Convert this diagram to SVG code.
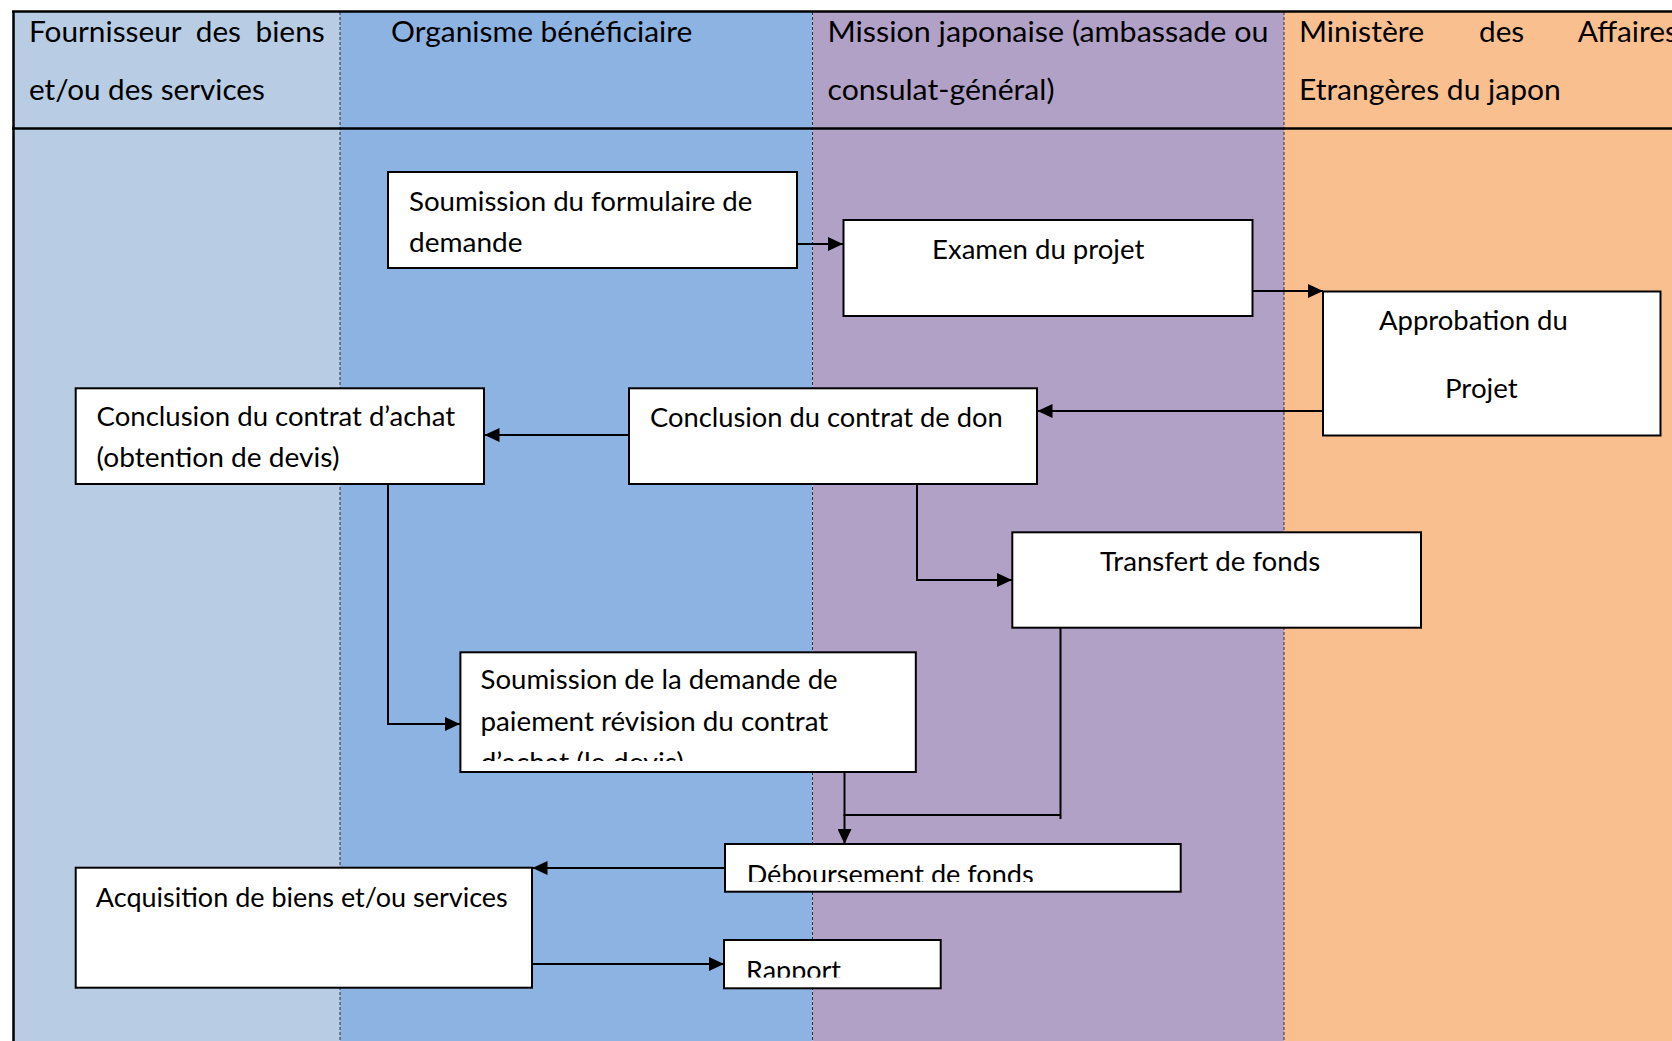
<svg xmlns="http://www.w3.org/2000/svg" width="1672" height="1041" viewBox="0 0 1672 1041">
<style>
.t{font-family:Lato,"Open Sans","Liberation Sans",sans-serif;fill:#000}
.h{font-size:28.8px}
.b{font-size:26.5px}
.box{fill:#fff;stroke:#000;stroke-width:2}
.sep{stroke:#333;stroke-width:1;stroke-dasharray:3 2;fill:none}
.bd{stroke:#000;stroke-width:2.5;fill:none}
.c{fill:none;stroke:#000;stroke-width:2}
</style>
<defs>
<marker id="ah" markerUnits="userSpaceOnUse" markerWidth="15" markerHeight="14" refX="15" refY="7" orient="auto">
<path d="M0,0 L15,7 L0,14 z" fill="#000"/>
</marker>
<clipPath id="clip7"><rect x="461" y="653" width="454" height="108"/></clipPath>
<clipPath id="clip8"><rect x="726" y="845" width="454" height="37"/></clipPath>
<clipPath id="clip9"><rect x="725" y="941" width="215" height="36.5"/></clipPath>
</defs>
<rect width="1672" height="1041" fill="#fff"/>
<g id="lanes">
<rect x="13" y="11" width="327" height="1030" fill="#B8CCE4"/>
<rect x="340" y="11" width="472.5" height="1030" fill="#8DB3E2"/>
<rect x="812.5" y="11" width="471.5" height="1030" fill="#B2A1C7"/>
<rect x="1284" y="11" width="388" height="1030" fill="#FABF8F"/>
<line class="sep" x1="340" y1="12" x2="340" y2="1041"/>
<line class="sep" x1="812.5" y1="12" x2="812.5" y2="1041"/>
<line class="sep" x1="1284" y1="12" x2="1284" y2="1041"/>
<line class="bd" x1="12" y1="11.5" x2="1672" y2="11.5"/>
<line class="bd" x1="12" y1="128.5" x2="1672" y2="128.5"/>
<line class="bd" x1="13.5" y1="11" x2="13.5" y2="1041"/>
</g>
<g id="headers">
<text class="t h" y="42"><tspan x="29" textLength="152.6" lengthAdjust="spacingAndGlyphs">Fournisseur</tspan><tspan x="195.8" textLength="45.2" lengthAdjust="spacingAndGlyphs">des</tspan><tspan x="255.4" textLength="69.4" lengthAdjust="spacingAndGlyphs">biens</tspan></text>
<text class="t h" x="29" y="100" textLength="235.8" lengthAdjust="spacingAndGlyphs">et/ou des services</text>
<text class="t h" x="391" y="42" textLength="301.3" lengthAdjust="spacingAndGlyphs">Organisme bénéficiaire</text>
<text class="t h" x="827.5" y="42" textLength="441" lengthAdjust="spacingAndGlyphs">Mission japonaise (ambassade ou</text>
<text class="t h" x="827.5" y="100" textLength="227" lengthAdjust="spacingAndGlyphs">consulat-général)</text>
<text class="t h" y="42"><tspan x="1299" textLength="125.1" lengthAdjust="spacingAndGlyphs">Ministère</tspan><tspan x="1479" textLength="45.2" lengthAdjust="spacingAndGlyphs">des</tspan><tspan x="1577.7" textLength="100.3" lengthAdjust="spacingAndGlyphs">Affaires</tspan></text>
<text class="t h" x="1299" y="100" textLength="261.8" lengthAdjust="spacingAndGlyphs">Etrangères du japon</text>
</g>
<g id="n1">
<rect class="box" x="388" y="172" width="409" height="96"/>
<text class="t b" x="409" y="211" textLength="343.4" lengthAdjust="spacingAndGlyphs">Soumission du formulaire de</text>
<text class="t b" x="409" y="252" textLength="113.5" lengthAdjust="spacingAndGlyphs">demande</text>
</g>
<g id="n2">
<rect class="box" x="843.5" y="220" width="409" height="96"/>
<text class="t b" x="932" y="259" textLength="212.3" lengthAdjust="spacingAndGlyphs">Examen du projet</text>
</g>
<g id="n3">
<rect class="box" x="1323" y="291.5" width="337.5" height="144"/>
<text class="t b" x="1379" y="330" textLength="188.8" lengthAdjust="spacingAndGlyphs">Approbation du</text>
<text class="t b" x="1445" y="398" textLength="72.7" lengthAdjust="spacingAndGlyphs">Projet</text>
</g>
<g id="n4">
<rect class="box" x="75.7" y="388.3" width="408.3" height="95.7"/>
<text class="t b" x="96.6" y="426" textLength="358.5" lengthAdjust="spacingAndGlyphs">Conclusion du contrat d’achat</text>
<text class="t b" x="96.6" y="467" textLength="242.8" lengthAdjust="spacingAndGlyphs">(obtention de devis)</text>
</g>
<g id="n5">
<rect class="box" x="629" y="388.3" width="408" height="95.7"/>
<text class="t b" x="650" y="427" textLength="352.8" lengthAdjust="spacingAndGlyphs">Conclusion du contrat de don</text>
</g>
<g id="n6">
<rect class="box" x="1012.3" y="532.3" width="408.7" height="95.4"/>
<text class="t b" x="1100" y="570.7" textLength="220.2" lengthAdjust="spacingAndGlyphs">Transfert de fonds</text>
</g>
<g id="n7">
<rect class="box" x="460.4" y="652.3" width="455.4" height="119.7"/>
<g clip-path="url(#clip7)">
<text class="t b" x="480.5" y="689.3" textLength="357.2" lengthAdjust="spacingAndGlyphs">Soumission de la demande de</text>
<text class="t b" x="480.5" y="730.7" textLength="347.8" lengthAdjust="spacingAndGlyphs">paiement révision du contrat</text>
<text class="t b" x="480.5" y="772" textLength="203.4" lengthAdjust="spacingAndGlyphs">d’achat (le devis)</text>
</g>
</g>
<g id="n8">
<rect class="box" x="725" y="844" width="455.7" height="47.7"/>
<g clip-path="url(#clip8)">
<text class="t b" x="746.7" y="884" textLength="287" lengthAdjust="spacingAndGlyphs">Déboursement de fonds</text>
</g>
</g>
<g id="n9">
<rect class="box" x="724" y="940" width="216.7" height="48.3"/>
<g clip-path="url(#clip9)">
<text class="t b" x="746" y="980" textLength="95" lengthAdjust="spacingAndGlyphs">Rapport</text>
</g>
</g>
<g id="n10">
<rect class="box" x="75.7" y="867.7" width="456.3" height="120"/>
<text class="t b" x="95.8" y="906.7" textLength="412" lengthAdjust="spacingAndGlyphs">Acquisition de biens et/ou services</text>
</g>
<g id="connectors">
<path class="c" d="M797,244 H843" marker-end="url(#ah)"/>
<path class="c" d="M1252.5,291 H1323" marker-end="url(#ah)"/>
<path class="c" d="M1323,411 H1037.5" marker-end="url(#ah)"/>
<path class="c" d="M629,435 H484.5" marker-end="url(#ah)"/>
<path class="c" d="M917,484 V580 H1012" marker-end="url(#ah)"/>
<path class="c" d="M388,484 V724 H460" marker-end="url(#ah)"/>
<path class="c" d="M844.5,772 V844" marker-end="url(#ah)"/>
<path class="c" d="M1060.5,628 V819 M1060.5,815 H843.5"/>
<path class="c" d="M725,868 H532.5" marker-end="url(#ah)"/>
<path class="c" d="M532,964 H724" marker-end="url(#ah)"/>
</g>
</svg>
